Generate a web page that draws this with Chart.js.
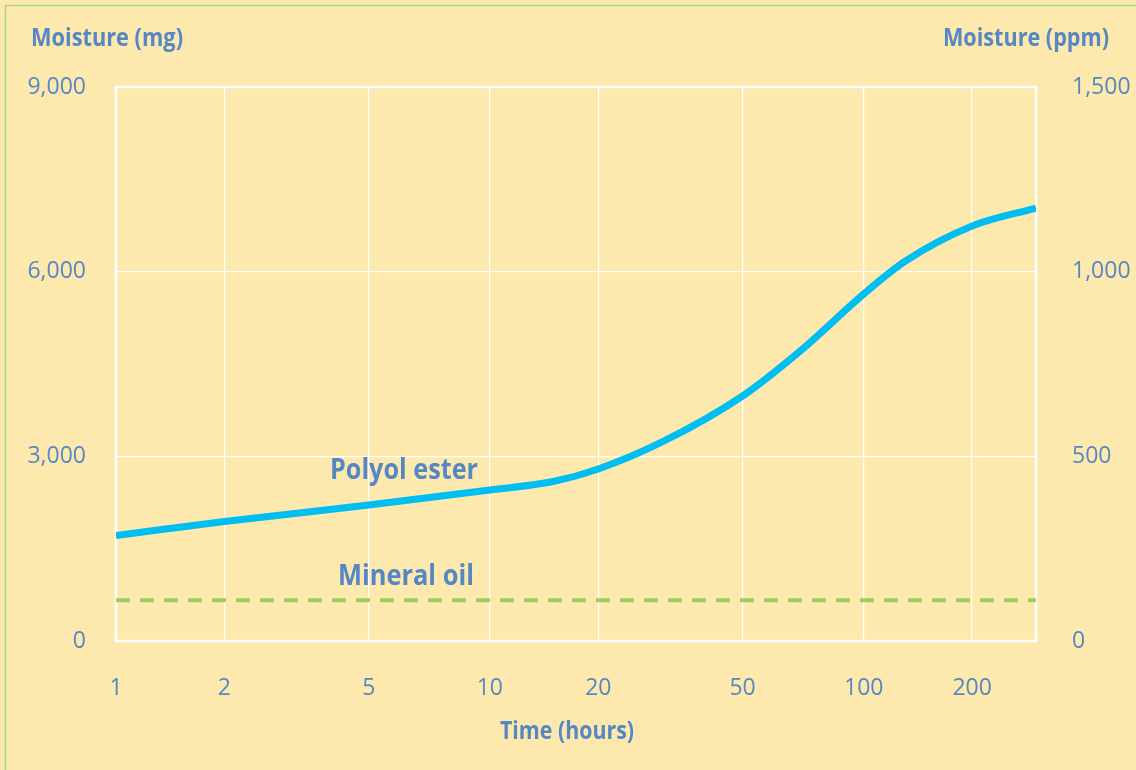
<!DOCTYPE html>
<html>
<head>
<meta charset="utf-8">
<script src="https://cdn.jsdelivr.net/npm/chart.js@4"></script>
<style>
  html, body { margin: 0; padding: 0; background: #fde9ad; }
  #wrap { width: 1136px; height: 770px; }
</style>
</head>
<body>
<div id="wrap"><canvas id="c" width="1136" height="770"></canvas></div>
<script>
// Exposure time (hours) and absorbed moisture (mg)
const esterHours    = [1, 2, 5, 10, 15, 20, 30, 50, 70, 100, 130, 200, 300];
const esterMoisture = [1714, 1941, 2209, 2453, 2591, 2794, 3233, 3980, 4727, 5637, 6165, 6742, 7034];
const mineralHours    = [1, 300];
const mineralMoisture = [660, 660];

const timeTicks = [1, 2, 5, 10, 20, 50, 100, 200];
const mgRange   = [0, 9000];
const ppmRange  = [0, 1500];

// position of 1, 2, 5 and 10 inside one decade of the time axis
const decadeKnots = [[0, 0], [Math.log10(2), 0.29], [Math.log10(5), 0.676], [1, 1]];

const BG = '#fde9ad';
const TEXT = '#5587c5';
const FONT = "'Open Sans', 'Noto Sans', sans-serif";

const pairs = (xs, ys) => xs.map((x, i) => ({ x, y: ys[i] }));
const fmt = v => Number(v).toLocaleString('en-US');

function warp(v) {
  const L = Math.log10(v);
  const d = Math.floor(L + 1e-12);
  const f = L - d;
  for (let i = 1; i < decadeKnots.length; i++) {
    const [a0, b0] = decadeKnots[i - 1], [a1, b1] = decadeKnots[i];
    if (f <= a1) return d + b0 + (f - a0) / (a1 - a0) * (b1 - b0);
  }
  return d + 1;
}
function unwarp(w) {
  const d = Math.floor(w);
  const f = w - d;
  for (let i = 1; i < decadeKnots.length; i++) {
    const [a0, b0] = decadeKnots[i - 1], [a1, b1] = decadeKnots[i];
    if (f <= b1) return Math.pow(10, d + a0 + (f - b0) / (b1 - b0) * (a1 - a0));
  }
  return Math.pow(10, d + 1);
}

// logarithmic time axis with the 1-2-5 spacing of the printed grid
class DecadeScale extends Chart.LogarithmicScale {
  getPixelForValue(value) {
    if (value === undefined || value === 0) value = this.min;
    if (value === null || isNaN(value)) return NaN;
    const a = warp(this.min), b = warp(this.max);
    return this.getPixelForDecimal((warp(value) - a) / (b - a));
  }
  getValueForPixel(pixel) {
    const a = warp(this.min), b = warp(this.max);
    return unwarp(a + this.getDecimalForPixel(pixel) * (b - a));
  }
}
DecadeScale.id = 'decadeLog';
DecadeScale.defaults = Chart.LogarithmicScale.defaults;
Chart.register(DecadeScale);

// background, outer border and white plot frame
const backdrop = {
  id: 'backdrop',
  beforeDraw(chart) {
    const { ctx, width, height } = chart;
    ctx.save();
    ctx.fillStyle = BG;
    ctx.fillRect(0, 0, width, height);
    ctx.strokeStyle = '#acd48e';
    ctx.lineWidth = 1.5;
    ctx.beginPath();
    ctx.moveTo(5.5, height + 2);
    ctx.lineTo(5.5, 5.5);
    ctx.lineTo(width + 2, 5.5);
    ctx.stroke();
    ctx.restore();
  },
  beforeDatasetsDraw(chart) {
    const { ctx, chartArea: a } = chart;
    ctx.save();
    ctx.strokeStyle = '#ffffff';
    ctx.lineWidth = 2.5;
    ctx.strokeRect(a.left, a.top, a.right - a.left, a.bottom - a.top);
    ctx.restore();
  }
};

// axis titles and series captions
const captions = {
  id: 'captions',
  afterDraw(chart) {
    const { ctx } = chart;
    const put = (text, x, y, size, w) => {
      ctx.font = `700 ${size}px ${FONT}`;
      ctx.fillStyle = TEXT;
      ctx.textAlign = 'left';
      ctx.textBaseline = 'alphabetic';
      ctx.fillText(text, x, y, w);
    };
    ctx.save();
    put('Moisture (mg)', 31, 46, 25, 152);
    put('Moisture (ppm)', 943, 46, 25, 166);
    put('Time (hours)', 500, 739, 25, 134);
    put('Polyol ester', 330, 479, 28, 148);
    put('Mineral oil', 338, 585, 28, 136);
    ctx.restore();
  }
};

new Chart(document.getElementById('c'), {
  type: 'line',
  data: {
    datasets: [
      {
        label: 'Polyol ester',
        data: pairs(esterHours, esterMoisture),
        borderColor: '#00bdf2',
        borderWidth: 7,
        pointRadius: 0,
        cubicInterpolationMode: 'monotone',
        yAxisID: 'y'
      },
      {
        label: 'Mineral oil',
        data: pairs(mineralHours, mineralMoisture),
        borderColor: '#9dcd63',
        borderWidth: 4,
        borderDash: [14, 10],
        pointRadius: 0,
        yAxisID: 'y'
      }
    ]
  },
  options: {
    responsive: false,
    animation: false,
    devicePixelRatio: 1,
    layout: { padding: { top: 87, left: 0, right: 0, bottom: 0 } },
    plugins: { legend: { display: false }, tooltip: { enabled: false } },
    scales: {
      x: {
        type: 'decadeLog',
        min: esterHours[0],
        max: esterHours[esterHours.length - 1],
        afterBuildTicks(scale) { scale.ticks = timeTicks.map(v => ({ value: v })); },
        afterFit(scale) { scale.height = 129; },
        grid: { color: '#ffffff', lineWidth: 1.3, drawTicks: false },
        border: { display: false },
        ticks: {
          color: TEXT, font: { family: FONT, size: 23 }, padding: 34,
          autoSkip: false, maxRotation: 0,
          callback: v => String(v)
        }
      },
      y: {
        position: 'left',
        min: mgRange[0], max: mgRange[1],
        afterFit(scale) { scale.width = 116; },
        grid: { color: '#ffffff', lineWidth: 1.3, drawTicks: false },
        border: { display: false },
        ticks: {
          stepSize: 3000, color: TEXT, font: { family: FONT, size: 23 }, padding: 30,
          callback: v => fmt(v)
        }
      },
      y2: {
        position: 'right',
        min: ppmRange[0], max: ppmRange[1],
        afterFit(scale) { scale.width = 100; },
        grid: { display: false, drawTicks: false },
        border: { display: false },
        ticks: {
          stepSize: 500, color: TEXT, font: { family: FONT, size: 23 }, padding: 36,
          callback: v => fmt(v)
        }
      }
    }
  },
  plugins: [backdrop, captions]
});
</script>
</body>
</html>
